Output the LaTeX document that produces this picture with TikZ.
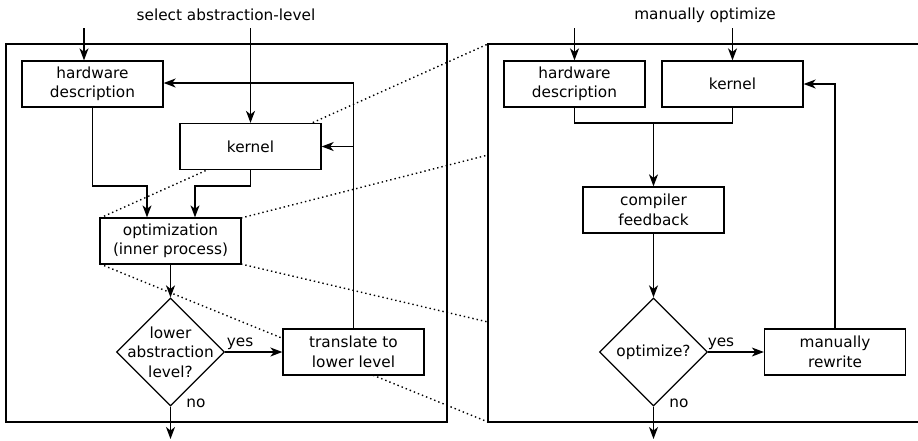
\documentclass[tikz,border=0pt]{standalone}
\usepackage{fontspec}
\setmainfont{DejaVu Sans}
\usetikzlibrary{arrows.meta}
\usetikzlibrary{shapes.geometric}

\tikzset{
  block/.style={draw, fill=white, line width=1.3pt, minimum width=141pt,
    minimum height=46pt, inner sep=0pt, align=center},
  decision/.style={draw, fill=white, diamond, line width=1.3pt, aspect=1,
    minimum width=108pt, minimum height=108pt, inner sep=0pt},
  frame/.style={line width=1.3pt},
  flow/.style={line width=1.3pt, -{Stealth[length=12pt,width=9pt,inset=3.5pt]}},
  zoomline/.style={line width=1.4pt, dash pattern=on 1.4pt off 3pt},
}

\begin{document}
\begin{tikzpicture}[x=1pt, y=-1pt, font=\fontsize{15.3}{19.5}\selectfont]
  \useasboundingbox (0,0) rectangle (918,440);
  \clip (0,0) rectangle (918,440);

  % frames
  \draw[frame] (6,44) rectangle (447,422);
  \draw[frame] (488,44) rectangle (935,422);

  \node (selA) at (226,15) {select abstraction-level};
  \node (selB) at (705,15) {manually optimize};

  \coordinate (inA1) at (84,28);
  \coordinate (inA2) at (250.5,28);
  \coordinate (inB1) at (574.5,28);
  \coordinate (inB2) at (732.5,28);
  \coordinate (outA) at (170.5,439);
  \coordinate (outB) at (653.5,439);

  % zoom lines (behind the boxes)
  \coordinate (zA) at (488,44);
  \coordinate (zB) at (488,155);
  \coordinate (zC) at (488,322);
  \coordinate (zD) at (488,422);
  \draw[zoomline] (100,218) -- (zA);
  \draw[zoomline] (241,218) -- (zB);
  \draw[zoomline] (241,264) -- (zC);
  \draw[zoomline] (100,264) -- (zD);

  % left: outer process
  \node[block] (hwA) at (92.5,84) {hardware\\description};
  \node[block] (kerA) at (250.5,146.5) {kernel};
  \node[block] (optA) at (170.5,241) {optimization\\(inner process)};
  \node[decision, label={[align=center]center:lower\\abstraction\\level?}] (decA) at (170.5,352) {};
  \node[block] (trA) at (353.5,352) {translate to\\lower level};

  \draw[flow] (inA1) -- (inA1 |- hwA.north);
  \draw[flow] (inA2) -- (kerA.north);
  \draw[flow] (hwA.south) -- (hwA.south |- 0,186) -| ([xshift=-23.5pt]optA.north);
  \draw[flow] (kerA.south) -- (kerA.south |- 0,186) -| ([xshift=24.5pt]optA.north);
  \draw[flow] (optA) -- (decA);
  \draw[flow] (decA) -- node[above, pos=0.26, inner sep=2pt] {yes} (trA);
  \draw[flow] (decA.south) -- node[pos=0, anchor=west, xshift=12pt, yshift=3pt] {no} (outA);
  \coordinate (fbA) at (353.5,83);
  \draw[flow] (trA.north) -- (fbA) -- (fbA -| hwA.east);
  \draw[flow] (trA.north |- kerA.east) -- (kerA.east);

  % right: inner process
  \node[block] (hwB) at (574.5,84) {hardware\\description};
  \node[block] (kerB) at (732.5,84) {kernel};
  \node[block] (cfB) at (653.5,210) {compiler\\feedback};
  \node[decision, label={center:optimize?}] (decB) at (653.5,352) {};
  \node[block] (mrB) at (835,352) {manually\\rewrite};

  \draw[flow] (inB1) -- (hwB.north);
  \draw[flow] (inB2) -- (kerB.north);
  \coordinate (mgB) at (653.5,123);
  \draw[frame] (hwB.south) |- (mgB) -| (kerB.south);
  \draw[flow] (mgB) -- (cfB.north);
  \draw[flow] (cfB) -- (decB);
  \draw[flow] (decB) -- node[above, pos=0.23, inner sep=2pt] {yes} (mrB);
  \draw[flow] (decB.south) -- node[pos=0, anchor=west, xshift=12pt, yshift=3pt] {no} (outB);
  \draw[flow] (mrB.north) |- (kerB.east);
\end{tikzpicture}
\end{document}
